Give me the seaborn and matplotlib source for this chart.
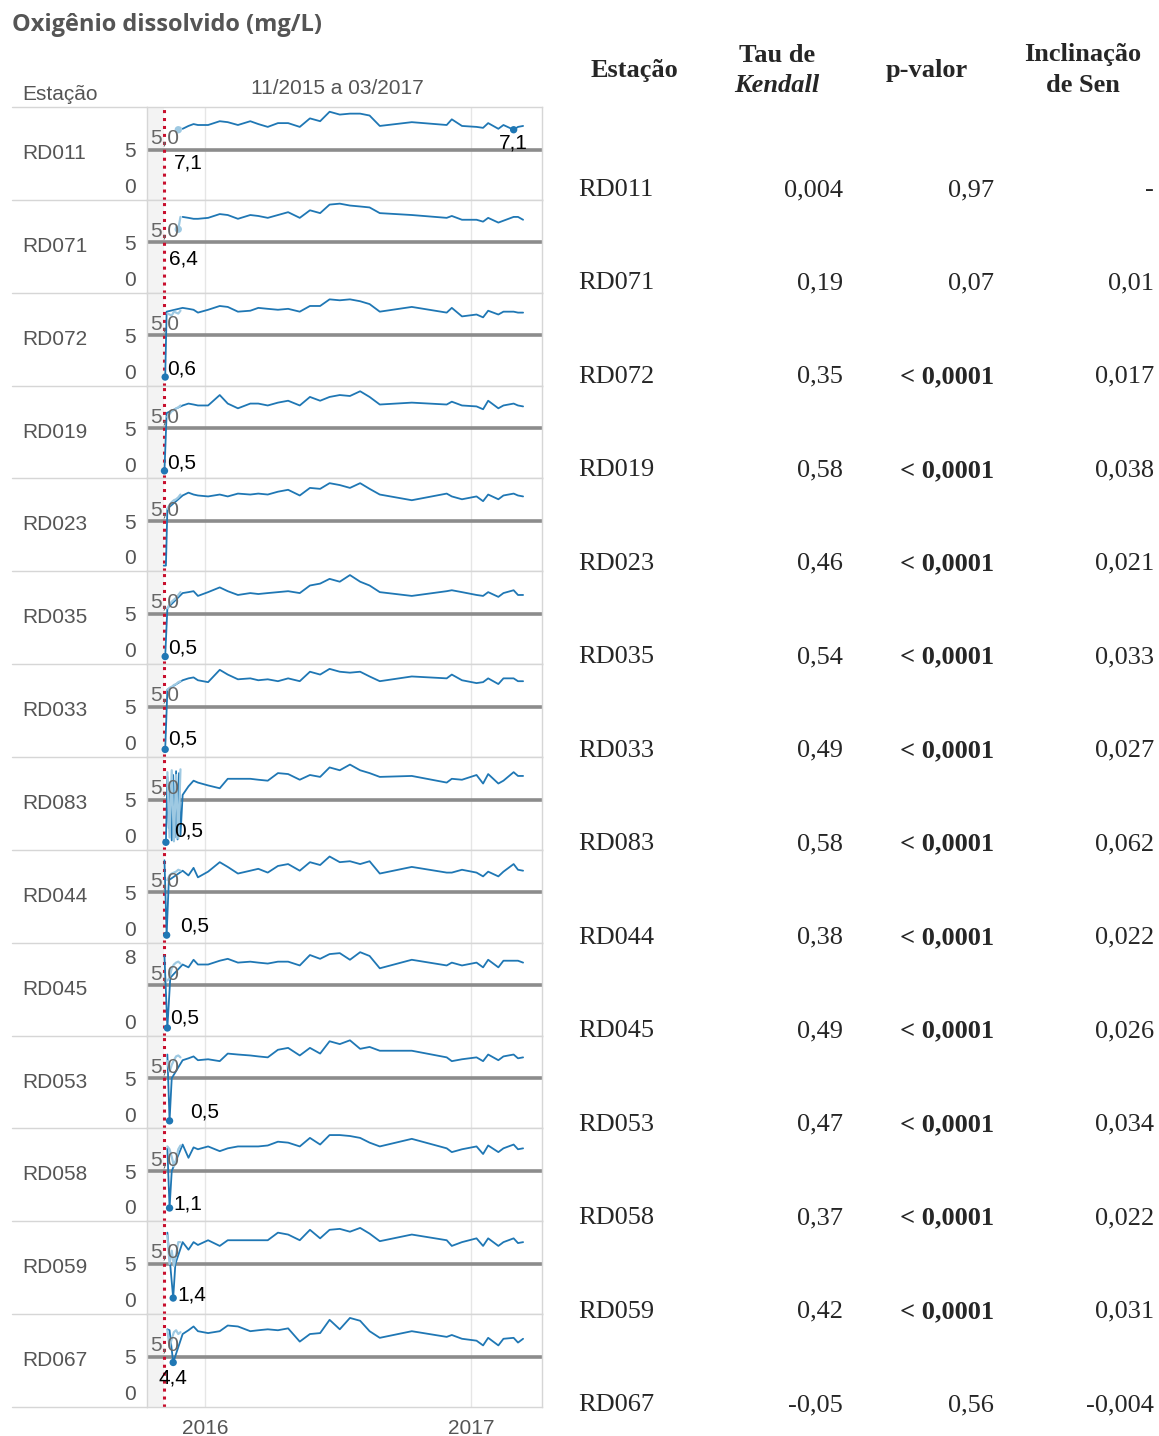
import numpy as np
import pandas as pd
import matplotlib
matplotlib.use('Agg')
import matplotlib.pyplot as plt
import matplotlib.dates as mdates
from matplotlib.lines import Line2D
import seaborn as sns

# estacoes e estatisticas (Mann-Kendall / Sen)
stations = ["RD011", "RD071", "RD072", "RD019", "RD023", "RD035", "RD033",
            "RD083", "RD044", "RD045", "RD053", "RD058", "RD059", "RD067"]
tau = ["0,004", "0,19", "0,35", "0,58", "0,46", "0,54", "0,49",
       "0,58", "0,38", "0,49", "0,47", "0,37", "0,42", "-0,05"]
pval = ["0,97", "0,07", "< 0,0001", "< 0,0001", "< 0,0001", "< 0,0001", "< 0,0001",
        "< 0,0001", "< 0,0001", "< 0,0001", "< 0,0001", "< 0,0001", "< 0,0001", "0,56"]
sen = ["-", "0,01", "0,017", "0,038", "0,021", "0,033", "0,027",
       "0,062", "0,022", "0,026", "0,034", "0,022", "0,031", "-0,004"]

# datas de coleta (serie regular)
main_dates = ["2015-12-01", "2015-12-09", "2015-12-16", "2015-12-22", "2016-01-05", "2016-01-21",
              "2016-02-01", "2016-02-15", "2016-03-03", "2016-03-14", "2016-03-27", "2016-04-10",
              "2016-04-24", "2016-05-10", "2016-05-24", "2016-06-07", "2016-06-20", "2016-07-04",
              "2016-07-18", "2016-08-01", "2016-08-14", "2016-08-28", "2016-10-11", "2016-11-28",
              "2016-12-05", "2016-12-19", "2017-01-08", "2017-01-17", "2017-01-24", "2017-02-07",
              "2017-02-14", "2017-02-28", "2017-03-06", "2017-03-13"]
# datas do monitoramento emergencial (serie clara)
light_dates = ["2015-11-10", "2015-11-13", "2015-11-16", "2015-11-19", "2015-11-22", "2015-11-25", "2015-11-28"]

od_rd011 = [7.2, 7.5, 7.7, 7.6, 7.6, 8.0, 7.9, 7.6, 8.0, 7.7, 7.4, 7.8, 7.8, 7.4, 8.3, 8.0, 9.0, 8.7, 8.8, 8.8, 8.6, 7.5, 7.9, 7.6, 8.2, 7.5, 7.4, 7.3, 7.8, 7.2, 7.6, 7.1, 7.4, 7.5]
od_rd071 = [7.7, 7.6, 7.5, 7.5, 7.6, 8.0, 7.9, 7.5, 7.9, 7.8, 7.6, 7.9, 8.2, 7.6, 8.4, 8.1, 9.0, 9.1, 8.9, 8.8, 8.7, 8.1, 7.9, 7.6, 7.8, 7.4, 7.4, 7.2, 7.6, 7.1, 7.3, 7.7, 7.7, 7.4]
od_rd072 = [7.9, 7.8, 7.7, 7.4, 7.7, 8.1, 8.0, 7.5, 7.6, 7.9, 7.8, 7.7, 7.8, 7.5, 8.1, 8.1, 8.8, 8.7, 8.8, 8.6, 8.3, 7.5, 8.0, 7.4, 7.9, 7.0, 7.2, 6.9, 7.6, 7.2, 7.5, 7.5, 7.4, 7.4]
od_rd019 = [7.4, 7.6, 7.5, 7.4, 7.4, 8.5, 7.6, 7.1, 7.6, 7.6, 7.4, 7.7, 7.9, 7.4, 8.3, 7.9, 8.3, 8.5, 8.4, 8.9, 8.3, 7.5, 7.7, 7.5, 7.8, 7.4, 7.3, 7.0, 7.9, 7.1, 7.4, 7.6, 7.4, 7.3]
od_rd023 = [7.7, 8.0, 7.8, 7.7, 7.6, 7.8, 7.6, 7.9, 7.8, 7.9, 7.8, 8.1, 8.3, 7.7, 8.5, 8.4, 9.0, 8.8, 8.5, 9.0, 8.4, 7.8, 7.2, 7.9, 7.6, 7.3, 7.6, 7.1, 7.8, 7.3, 7.7, 7.9, 7.7, 7.6]
od_rd035 = [7.2, 7.3, 7.4, 6.9, 7.3, 7.8, 7.4, 7.0, 7.2, 7.1, 7.2, 7.3, 7.4, 7.2, 8.0, 8.2, 8.7, 8.4, 9.1, 8.4, 8.0, 7.3, 6.9, 7.4, 7.5, 7.3, 7.0, 6.9, 7.3, 6.8, 7.2, 7.5, 7.0, 7.0]
od_rd033 = [7.8, 8.0, 8.1, 7.8, 7.6, 8.9, 8.4, 7.9, 8.0, 7.8, 7.9, 7.7, 8.0, 7.7, 8.7, 8.4, 9.0, 8.7, 8.6, 8.7, 8.2, 7.7, 8.2, 8.0, 8.4, 7.8, 7.5, 7.6, 8.0, 7.4, 8.0, 8.0, 7.7, 7.7]
od_rd083 = [5.5, 6.4, 7.0, 6.8, 6.5, 6.2, 7.2, 7.2, 7.2, 7.1, 7.0, 7.8, 7.7, 7.1, 7.6, 7.4, 8.4, 8.1, 8.7, 8.1, 7.8, 7.4, 7.5, 6.8, 7.2, 7.1, 7.6, 6.7, 7.7, 6.7, 7.0, 7.9, 7.5, 7.5]
od_rd044 = [7.3, 6.8, 7.6, 6.6, 7.2, 8.2, 7.7, 7.0, 7.3, 7.5, 7.1, 7.8, 8.0, 7.3, 8.2, 7.9, 8.8, 8.2, 8.3, 8.0, 8.3, 7.0, 7.7, 7.1, 7.1, 7.4, 7.1, 6.7, 7.2, 6.7, 7.2, 8.0, 7.4, 7.3]
od_rd045 = [7.2, 6.9, 7.7, 7.2, 7.2, 7.6, 7.8, 7.4, 7.5, 7.4, 7.3, 7.5, 7.5, 7.1, 8.2, 7.8, 8.3, 8.4, 7.7, 8.5, 8.1, 6.8, 7.7, 7.1, 7.4, 7.1, 7.4, 6.9, 7.7, 6.9, 7.6, 7.6, 7.6, 7.4]
od_rd053 = [6.9, 7.1, 7.3, 6.9, 7.0, 6.8, 7.6, 7.5, 7.4, 7.3, 7.2, 8.0, 8.2, 7.4, 8.2, 7.6, 8.9, 8.6, 9.0, 8.1, 8.3, 7.9, 7.9, 7.2, 6.8, 7.0, 7.2, 6.8, 7.5, 6.9, 7.3, 7.5, 7.1, 7.2]
od_rd058 = [7.8, 6.4, 7.5, 7.3, 7.6, 7.1, 7.4, 7.6, 7.6, 7.6, 7.7, 8.1, 8.0, 7.6, 8.5, 7.8, 8.8, 8.8, 8.7, 8.5, 8.0, 7.6, 8.4, 7.4, 7.0, 7.3, 7.6, 6.8, 7.7, 7.0, 7.4, 7.8, 7.3, 7.4]
od_rd059 = [7.3, 6.5, 7.3, 7.0, 7.5, 6.9, 7.5, 7.5, 7.5, 7.5, 7.5, 8.3, 8.1, 7.5, 8.6, 7.7, 8.6, 8.7, 8.4, 8.8, 8.2, 7.4, 8.1, 7.5, 6.9, 7.3, 7.7, 6.9, 7.7, 6.9, 7.3, 7.7, 7.2, 7.3]
od_rd067 = [7.4, 7.8, 8.2, 7.7, 7.5, 7.7, 8.3, 8.2, 7.7, 7.8, 7.9, 7.8, 8.0, 6.6, 7.4, 7.5, 8.9, 7.9, 9.1, 8.8, 7.7, 7.0, 7.7, 7.1, 7.3, 6.9, 6.7, 6.2, 7.0, 6.2, 6.9, 7.0, 6.5, 6.9]

# primeiras coletas apos o rompimento (serie escura)
early_dates = {
    "RD011": [], "RD071": [],
    "RD072": ["2015-11-07", "2015-11-09"],
    "RD019": ["2015-11-06", "2015-11-09"],
    "RD023": ["2015-11-05", "2015-11-08", "2015-11-10"],
    "RD035": ["2015-11-07", "2015-11-10"],
    "RD033": ["2015-11-07", "2015-11-10"],
    "RD083": ["2015-11-08", "2015-11-10", "2015-11-12", "2015-11-14", "2015-11-16", "2015-11-18",
              "2015-11-20", "2015-11-22", "2015-11-24", "2015-11-26", "2015-11-28"],
    "RD044": ["2015-11-06", "2015-11-09", "2015-11-12"],
    "RD045": ["2015-11-06", "2015-11-10", "2015-11-14"],
    "RD053": ["2015-11-10", "2015-11-13", "2015-11-16"],
    "RD058": ["2015-11-10", "2015-11-13", "2015-11-16"],
    "RD059": ["2015-11-10", "2015-11-18", "2015-11-21"],
    "RD067": ["2015-11-10", "2015-11-13", "2015-11-18"],
}
early_vals = {
    "RD011": [], "RD071": [],
    "RD072": [0.6, 7.5],
    "RD019": [0.5, 6.6],
    "RD023": [0.3, 0.3, 6.3],
    "RD035": [0.5, 5.6],
    "RD033": [0.5, 6.8],
    "RD083": [0.5, 7.4, 2.0, 6.2, 0.7, 7.6, 1.0, 8.0, 0.8, 7.8, 1.2],
    "RD044": [8.4, 0.5, 6.3],
    "RD045": [8.1, 0.5, 5.8],
    "RD053": [7.5, 0.5, 5.0],
    "RD058": [7.4, 1.1, 5.0],
    "RD059": [8.3, 1.4, 5.0],
    "RD067": [7.9, 7.8, 4.4],
}
nan = np.nan
light_rd011 = [nan, nan, nan, nan, nan, 7.1, 7.3]
light_rd071 = [nan, nan, nan, nan, 6.6, 6.4, 7.7]
light_rd072 = [7.3, 7.2, 7.1, 7.5, 7.4, 7.3, 7.6]
light_rd019 = [6.2, 6.5, 6.8, 6.9, 7.1, 7.2, 7.4]
light_rd023 = [6.3, 6.7, 7.0, 7.2, 7.3, 7.5, 7.8]
light_rd035 = [5.6, 6.0, 6.3, 6.5, 6.7, 7.0, 7.3]
light_rd033 = [6.8, 7.0, 7.1, 7.3, 7.4, 7.6, 7.7]
light_rd083 = [7.9, 1.0, 8.1, 0.6, 7.6, 0.9, 8.2]
light_rd044 = [6.3, 6.8, 7.0, 7.1, 7.2, 7.4, 7.3]
light_rd045 = [5.5, 5.8, 6.8, 7.2, 7.4, 7.5, 7.3]
light_rd053 = [6.8, 5.7, 6.4, 6.9, 7.3, 7.4, 7.2]
light_rd058 = [7.6, 7.3, 6.5, 5.5, 6.2, 7.3, 7.7]
light_rd059 = [8.0, 5.0, 6.4, 4.8, 6.0, 7.3, 7.3]
light_rd067 = [7.8, 6.0, 6.9, 7.6, 7.8, 7.4, 7.6]

main_vals = dict(zip(stations, [od_rd011, od_rd071, od_rd072, od_rd019, od_rd023, od_rd035, od_rd033,
                                od_rd083, od_rd044, od_rd045, od_rd053, od_rd058, od_rd059, od_rd067]))
light_vals = dict(zip(stations, [light_rd011, light_rd071, light_rd072, light_rd019, light_rd023,
                                 light_rd035, light_rd033, light_rd083, light_rd044, light_rd045,
                                 light_rd053, light_rd058, light_rd059, light_rd067]))

# posicao dos rotulos de minimo (pixels em relacao ao ponto)
label_offsets = {
    "RD011": {"dark": (-15, -13), "light": (-4, -33)},
    "RD071": {"light": (-9, -30)},
    "RD072": {"dark": (2, 8)}, "RD019": {"dark": (3, 8)},
    "RD035": {"dark": (3, 9)}, "RD033": {"dark": (3, 10)},
    "RD083": {"dark": (8, 11)}, "RD044": {"dark": (13, 9)},
    "RD045": {"dark": (3, 10)}, "RD053": {"dark": (21, 9)},
    "RD058": {"dark": (4, 4)}, "RD059": {"dark": (4, 3)},
    "RD067": {"dark": (-15, -16)},
}
yticks = {st: [0, 5] for st in stations}
yticks["RD045"] = [0, 8]

DARK = '#1f77b4'
LIGHT = '#9ec9e2'
GRAY_TXT = '#555555'
W, H = 1159, 1436

sns.set_style('white')
plt.rcParams['font.family'] = ['Liberation Sans', 'DejaVu Sans']

fig = plt.figure(figsize=(W / 100, H / 100), dpi=100)

def fx(x):
    return x / W

def fy(y):
    return 1 - y / H

x0 = pd.Timestamp("2015-10-13")
x1 = pd.Timestamp("2017-04-08")
red_day = pd.Timestamp("2015-11-05")
years = [pd.Timestamp("2016-01-01"), pd.Timestamp("2017-01-01")]

top0, bot0 = 107, 1407
h = (bot0 - top0) / len(stations)
fmt = lambda v: f"{v:.1f}".replace('.', ',')

for i, st in enumerate(stations):
    top = top0 + i * h
    ax = fig.add_axes([fx(147), fy(top + h), 395 / W, h / H])
    dark = pd.DataFrame({'data': pd.to_datetime(early_dates[st] + main_dates),
                         'od': early_vals[st] + main_vals[st]})
    light = pd.DataFrame({'data': pd.to_datetime(light_dates), 'od': light_vals[st]}).dropna()

    ax.axvspan(x0, red_day, color='#f3f3f3', lw=0, zorder=0)
    for yr in years:
        ax.axvline(yr, color='#e6e6e6', lw=1, zorder=0)
    ax.axhline(5, color='#8c8c8c', lw=2.6, zorder=1)
    ax.axvline(red_day, color='#c8102e', ls=(0, (1, 1.6)), lw=2.2, zorder=2)

    sns.lineplot(data=dark, x='data', y='od', ax=ax, color=DARK, lw=1.3,
                 estimator=None, sort=False, legend=False, zorder=3)
    sns.lineplot(data=light, x='data', y='od', ax=ax, color=LIGHT, lw=1.6,
                 estimator=None, sort=False, legend=False, zorder=4)

    # rotulo da linha de referencia
    ax.annotate('5,0', xy=(0, 5), xycoords=('axes fraction', 'data'), xytext=(3, 2),
                textcoords='offset pixels', ha='left', va='bottom', fontsize=15, color='#666666', zorder=6)

    # minimo de cada serie
    mins = {'dark': dark.loc[dark['od'].idxmin()], 'light': light.loc[light['od'].idxmin()]}
    offs = label_offsets.get(st, {})
    for key, row in mins.items():
        other = mins['light' if key == 'dark' else 'dark']
        if key in offs and row['od'] <= other['od'] + 1e-9:
            sns.scatterplot(x=[row['data']], y=[row['od']], ax=ax, color=DARK if key == 'dark' else LIGHT,
                            s=28, edgecolor='none', zorder=5, legend=False)
            ax.annotate(fmt(row['od']), xy=(row['data'], row['od']), xytext=offs[key],
                        textcoords='offset pixels', ha='left', va='center', fontsize=15,
                        color='black', zorder=6)

    ax.set_xlim(x0, x1)
    ax.set_ylim(-0.3, 9.5)
    ax.set_xlabel('')
    ax.set_ylabel('')
    ax.set_yticks(yticks[st])
    ax.set_yticklabels([str(t) for t in yticks[st]])
    ax.tick_params(axis='y', length=0, pad=8, labelsize=15, labelcolor=GRAY_TXT)
    for lbl in ax.get_yticklabels():
        if lbl.get_text() == '0':
            lbl.set_va('bottom')
    ax.xaxis.set_major_locator(mdates.YearLocator())
    ax.xaxis.set_minor_locator(mdates.MonthLocator())
    ax.xaxis.set_major_formatter(mdates.DateFormatter('%Y'))
    if i == len(stations) - 1:
        ax.tick_params(axis='x', which='major', length=6, color='#c8c8c8', pad=3,
                       labelsize=15, labelcolor=GRAY_TXT)
        ax.tick_params(axis='x', which='minor', length=4, color='#c8c8c8')
    else:
        ax.tick_params(axis='x', which='both', length=0, labelbottom=False)
    for s in ax.spines.values():
        s.set_color('#d6d6d6')
        s.set_linewidth(1)

    # linha separadora na coluna de estacoes
    fig.add_artist(Line2D([fx(12), fx(147)], [fy(top), fy(top)], transform=fig.transFigure,
                          color='#d6d6d6', lw=1))
    fig.text(fx(22), fy(top + h / 2), st, ha='left', va='center', fontsize=15, color=GRAY_TXT)

fig.add_artist(Line2D([fx(12), fx(147)], [fy(bot0), fy(bot0)], transform=fig.transFigure,
                      color='#d6d6d6', lw=1))

# cabecalhos do painel
fig.text(fx(12), fy(25), 'Oxigênio dissolvido (mg/L)', ha='left', va='center', fontsize=17,
         fontweight='bold', color=GRAY_TXT, family=['Open Sans', 'DejaVu Sans'])
fig.text(fx(22), fy(94), 'Estação', ha='left', va='center', fontsize=15, color=GRAY_TXT)
fig.text(fx(337), fy(89), '11/2015 a 03/2017', ha='center', va='center', fontsize=15, color=GRAY_TXT)

# tabela de resultados
serif = ['Liberation Serif', 'DejaVu Serif']
hdr = dict(ha='center', va='center', fontsize=19, fontweight='bold', family=serif)
fig.text(fx(634), fy(70), 'Estação', **hdr)
fig.text(fx(777), fy(55), 'Tau de', **hdr)
fig.text(fx(777), fy(86), 'Kendall', style='italic', **hdr)
fig.text(fx(927), fy(70), 'p-valor', **hdr)
fig.text(fx(1083), fy(55), 'Inclinação', **hdr)
fig.text(fx(1083), fy(86), 'de Sen', **hdr)

for i, st in enumerate(stations):
    yy = fy(190 + i * 93.46)
    fig.text(fx(578), yy, st, ha='left', va='center', fontsize=19, family=serif)
    fig.text(fx(843), yy, tau[i], ha='right', va='center', fontsize=19, family=serif)
    fig.text(fx(994), yy, pval[i], ha='right', va='center', fontsize=19, family=serif,
             fontweight='bold' if pval[i].startswith('<') else 'normal')
    fig.text(fx(1154), yy, sen[i], ha='right', va='center', fontsize=19, family=serif)

fig.savefig('out.png', dpi=100)
